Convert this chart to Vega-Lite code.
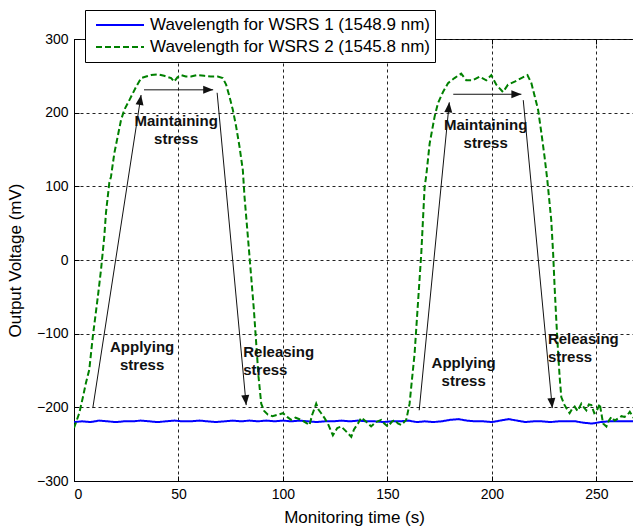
{
  "$schema": "https://vega.github.io/schema/vega-lite/v6.json",
  "width": 560,
  "height": 442,
  "autosize": {"type": "none"},
  "padding": {"left": 74, "top": 39, "right": 0, "bottom": 47},
  "background": "white",
  "config": {
    "font": "Liberation Sans",
    "view": {"stroke": "black", "strokeWidth": 1},
    "axis": {
      "domainColor": "black",
      "tickColor": "black",
      "labelColor": "black",
      "titleColor": "black",
      "labelFont": "Liberation Sans",
      "titleFont": "Liberation Sans",
      "labelFontSize": 14,
      "titleFontSize": 17,
      "titleFontWeight": "normal",
      "tickSize": -5,
      "labelPadding": 11,
      "gridColor": "#222222",
      "gridDash": [3, 3],
      "gridOpacity": 1,
      "gridWidth": 1
    }
  },
  "datasets": {
    "signals": [
      {"series": "Wavelength for WSRS 1 (1548.9 nm)", "t": 0, "v": -220},
      {"series": "Wavelength for WSRS 1 (1548.9 nm)", "t": 4, "v": -219},
      {"series": "Wavelength for WSRS 1 (1548.9 nm)", "t": 8, "v": -220},
      {"series": "Wavelength for WSRS 1 (1548.9 nm)", "t": 12, "v": -218},
      {"series": "Wavelength for WSRS 1 (1548.9 nm)", "t": 16, "v": -219},
      {"series": "Wavelength for WSRS 1 (1548.9 nm)", "t": 20, "v": -220},
      {"series": "Wavelength for WSRS 1 (1548.9 nm)", "t": 24, "v": -219},
      {"series": "Wavelength for WSRS 1 (1548.9 nm)", "t": 28, "v": -219},
      {"series": "Wavelength for WSRS 1 (1548.9 nm)", "t": 32, "v": -218},
      {"series": "Wavelength for WSRS 1 (1548.9 nm)", "t": 36, "v": -219},
      {"series": "Wavelength for WSRS 1 (1548.9 nm)", "t": 40, "v": -220},
      {"series": "Wavelength for WSRS 1 (1548.9 nm)", "t": 44, "v": -219},
      {"series": "Wavelength for WSRS 1 (1548.9 nm)", "t": 48, "v": -218},
      {"series": "Wavelength for WSRS 1 (1548.9 nm)", "t": 52, "v": -219},
      {"series": "Wavelength for WSRS 1 (1548.9 nm)", "t": 56, "v": -219},
      {"series": "Wavelength for WSRS 1 (1548.9 nm)", "t": 60, "v": -218},
      {"series": "Wavelength for WSRS 1 (1548.9 nm)", "t": 64, "v": -219},
      {"series": "Wavelength for WSRS 1 (1548.9 nm)", "t": 68, "v": -220},
      {"series": "Wavelength for WSRS 1 (1548.9 nm)", "t": 72, "v": -219},
      {"series": "Wavelength for WSRS 1 (1548.9 nm)", "t": 76, "v": -218},
      {"series": "Wavelength for WSRS 1 (1548.9 nm)", "t": 80, "v": -219},
      {"series": "Wavelength for WSRS 1 (1548.9 nm)", "t": 84, "v": -218},
      {"series": "Wavelength for WSRS 1 (1548.9 nm)", "t": 88, "v": -219},
      {"series": "Wavelength for WSRS 1 (1548.9 nm)", "t": 92, "v": -218},
      {"series": "Wavelength for WSRS 1 (1548.9 nm)", "t": 96, "v": -219},
      {"series": "Wavelength for WSRS 1 (1548.9 nm)", "t": 100, "v": -218},
      {"series": "Wavelength for WSRS 1 (1548.9 nm)", "t": 104, "v": -219},
      {"series": "Wavelength for WSRS 1 (1548.9 nm)", "t": 108, "v": -218},
      {"series": "Wavelength for WSRS 1 (1548.9 nm)", "t": 112, "v": -219},
      {"series": "Wavelength for WSRS 1 (1548.9 nm)", "t": 116, "v": -220},
      {"series": "Wavelength for WSRS 1 (1548.9 nm)", "t": 120, "v": -219},
      {"series": "Wavelength for WSRS 1 (1548.9 nm)", "t": 124, "v": -219},
      {"series": "Wavelength for WSRS 1 (1548.9 nm)", "t": 128, "v": -218},
      {"series": "Wavelength for WSRS 1 (1548.9 nm)", "t": 132, "v": -219},
      {"series": "Wavelength for WSRS 1 (1548.9 nm)", "t": 136, "v": -218},
      {"series": "Wavelength for WSRS 1 (1548.9 nm)", "t": 140, "v": -219},
      {"series": "Wavelength for WSRS 1 (1548.9 nm)", "t": 144, "v": -219},
      {"series": "Wavelength for WSRS 1 (1548.9 nm)", "t": 148, "v": -220},
      {"series": "Wavelength for WSRS 1 (1548.9 nm)", "t": 152, "v": -219},
      {"series": "Wavelength for WSRS 1 (1548.9 nm)", "t": 156, "v": -219},
      {"series": "Wavelength for WSRS 1 (1548.9 nm)", "t": 160, "v": -218},
      {"series": "Wavelength for WSRS 1 (1548.9 nm)", "t": 164, "v": -220},
      {"series": "Wavelength for WSRS 1 (1548.9 nm)", "t": 168, "v": -219},
      {"series": "Wavelength for WSRS 1 (1548.9 nm)", "t": 172, "v": -220},
      {"series": "Wavelength for WSRS 1 (1548.9 nm)", "t": 176, "v": -219},
      {"series": "Wavelength for WSRS 1 (1548.9 nm)", "t": 180, "v": -217},
      {"series": "Wavelength for WSRS 1 (1548.9 nm)", "t": 184, "v": -216},
      {"series": "Wavelength for WSRS 1 (1548.9 nm)", "t": 188, "v": -218},
      {"series": "Wavelength for WSRS 1 (1548.9 nm)", "t": 192, "v": -219},
      {"series": "Wavelength for WSRS 1 (1548.9 nm)", "t": 196, "v": -219},
      {"series": "Wavelength for WSRS 1 (1548.9 nm)", "t": 200, "v": -220},
      {"series": "Wavelength for WSRS 1 (1548.9 nm)", "t": 204, "v": -218},
      {"series": "Wavelength for WSRS 1 (1548.9 nm)", "t": 208, "v": -216},
      {"series": "Wavelength for WSRS 1 (1548.9 nm)", "t": 212, "v": -218},
      {"series": "Wavelength for WSRS 1 (1548.9 nm)", "t": 216, "v": -220},
      {"series": "Wavelength for WSRS 1 (1548.9 nm)", "t": 220, "v": -219},
      {"series": "Wavelength for WSRS 1 (1548.9 nm)", "t": 224, "v": -219},
      {"series": "Wavelength for WSRS 1 (1548.9 nm)", "t": 228, "v": -220},
      {"series": "Wavelength for WSRS 1 (1548.9 nm)", "t": 232, "v": -219},
      {"series": "Wavelength for WSRS 1 (1548.9 nm)", "t": 236, "v": -219},
      {"series": "Wavelength for WSRS 1 (1548.9 nm)", "t": 240, "v": -219},
      {"series": "Wavelength for WSRS 1 (1548.9 nm)", "t": 244, "v": -221},
      {"series": "Wavelength for WSRS 1 (1548.9 nm)", "t": 248, "v": -222},
      {"series": "Wavelength for WSRS 1 (1548.9 nm)", "t": 252, "v": -220},
      {"series": "Wavelength for WSRS 1 (1548.9 nm)", "t": 256, "v": -219},
      {"series": "Wavelength for WSRS 1 (1548.9 nm)", "t": 260, "v": -219},
      {"series": "Wavelength for WSRS 1 (1548.9 nm)", "t": 264, "v": -219},
      {"series": "Wavelength for WSRS 1 (1548.9 nm)", "t": 268, "v": -219},
      {"series": "Wavelength for WSRS 2 (1545.8 nm)", "t": 0, "v": -228},
      {"series": "Wavelength for WSRS 2 (1545.8 nm)", "t": 2.5, "v": -208},
      {"series": "Wavelength for WSRS 2 (1545.8 nm)", "t": 4.2, "v": -187},
      {"series": "Wavelength for WSRS 2 (1545.8 nm)", "t": 5.7, "v": -167},
      {"series": "Wavelength for WSRS 2 (1545.8 nm)", "t": 7.3, "v": -149},
      {"series": "Wavelength for WSRS 2 (1545.8 nm)", "t": 9, "v": -104},
      {"series": "Wavelength for WSRS 2 (1545.8 nm)", "t": 11.4, "v": -50},
      {"series": "Wavelength for WSRS 2 (1545.8 nm)", "t": 12.9, "v": -14},
      {"series": "Wavelength for WSRS 2 (1545.8 nm)", "t": 13.7, "v": 9},
      {"series": "Wavelength for WSRS 2 (1545.8 nm)", "t": 14.5, "v": 32},
      {"series": "Wavelength for WSRS 2 (1545.8 nm)", "t": 15.3, "v": 64},
      {"series": "Wavelength for WSRS 2 (1545.8 nm)", "t": 16.9, "v": 105},
      {"series": "Wavelength for WSRS 2 (1545.8 nm)", "t": 17.7, "v": 113},
      {"series": "Wavelength for WSRS 2 (1545.8 nm)", "t": 19.3, "v": 145},
      {"series": "Wavelength for WSRS 2 (1545.8 nm)", "t": 22.5, "v": 190},
      {"series": "Wavelength for WSRS 2 (1545.8 nm)", "t": 24.1, "v": 204},
      {"series": "Wavelength for WSRS 2 (1545.8 nm)", "t": 26.5, "v": 217},
      {"series": "Wavelength for WSRS 2 (1545.8 nm)", "t": 29.7, "v": 235},
      {"series": "Wavelength for WSRS 2 (1545.8 nm)", "t": 32.1, "v": 247},
      {"series": "Wavelength for WSRS 2 (1545.8 nm)", "t": 34.5, "v": 249},
      {"series": "Wavelength for WSRS 2 (1545.8 nm)", "t": 36.9, "v": 251},
      {"series": "Wavelength for WSRS 2 (1545.8 nm)", "t": 40, "v": 252},
      {"series": "Wavelength for WSRS 2 (1545.8 nm)", "t": 43.1, "v": 250},
      {"series": "Wavelength for WSRS 2 (1545.8 nm)", "t": 46.5, "v": 247},
      {"series": "Wavelength for WSRS 2 (1545.8 nm)", "t": 47.9, "v": 242},
      {"series": "Wavelength for WSRS 2 (1545.8 nm)", "t": 49.5, "v": 248},
      {"series": "Wavelength for WSRS 2 (1545.8 nm)", "t": 51.2, "v": 251},
      {"series": "Wavelength for WSRS 2 (1545.8 nm)", "t": 53.5, "v": 249},
      {"series": "Wavelength for WSRS 2 (1545.8 nm)", "t": 56, "v": 249},
      {"series": "Wavelength for WSRS 2 (1545.8 nm)", "t": 59, "v": 251},
      {"series": "Wavelength for WSRS 2 (1545.8 nm)", "t": 62.3, "v": 250},
      {"series": "Wavelength for WSRS 2 (1545.8 nm)", "t": 65.5, "v": 249},
      {"series": "Wavelength for WSRS 2 (1545.8 nm)", "t": 68.8, "v": 249},
      {"series": "Wavelength for WSRS 2 (1545.8 nm)", "t": 71.2, "v": 247},
      {"series": "Wavelength for WSRS 2 (1545.8 nm)", "t": 72.8, "v": 238},
      {"series": "Wavelength for WSRS 2 (1545.8 nm)", "t": 74.4, "v": 222},
      {"series": "Wavelength for WSRS 2 (1545.8 nm)", "t": 76, "v": 204},
      {"series": "Wavelength for WSRS 2 (1545.8 nm)", "t": 77.6, "v": 181},
      {"series": "Wavelength for WSRS 2 (1545.8 nm)", "t": 79.2, "v": 154},
      {"series": "Wavelength for WSRS 2 (1545.8 nm)", "t": 80.8, "v": 122},
      {"series": "Wavelength for WSRS 2 (1545.8 nm)", "t": 81.6, "v": 86},
      {"series": "Wavelength for WSRS 2 (1545.8 nm)", "t": 83.2, "v": 32},
      {"series": "Wavelength for WSRS 2 (1545.8 nm)", "t": 84.8, "v": -23},
      {"series": "Wavelength for WSRS 2 (1545.8 nm)", "t": 86.1, "v": -68},
      {"series": "Wavelength for WSRS 2 (1545.8 nm)", "t": 87.2, "v": -113},
      {"series": "Wavelength for WSRS 2 (1545.8 nm)", "t": 88.3, "v": -158},
      {"series": "Wavelength for WSRS 2 (1545.8 nm)", "t": 89.6, "v": -195},
      {"series": "Wavelength for WSRS 2 (1545.8 nm)", "t": 91, "v": -205},
      {"series": "Wavelength for WSRS 2 (1545.8 nm)", "t": 92.8, "v": -210},
      {"series": "Wavelength for WSRS 2 (1545.8 nm)", "t": 95, "v": -212},
      {"series": "Wavelength for WSRS 2 (1545.8 nm)", "t": 97.6, "v": -210},
      {"series": "Wavelength for WSRS 2 (1545.8 nm)", "t": 100, "v": -208},
      {"series": "Wavelength for WSRS 2 (1545.8 nm)", "t": 102, "v": -213},
      {"series": "Wavelength for WSRS 2 (1545.8 nm)", "t": 103.9, "v": -217},
      {"series": "Wavelength for WSRS 2 (1545.8 nm)", "t": 106, "v": -214},
      {"series": "Wavelength for WSRS 2 (1545.8 nm)", "t": 108.7, "v": -217},
      {"series": "Wavelength for WSRS 2 (1545.8 nm)", "t": 110.5, "v": -220},
      {"series": "Wavelength for WSRS 2 (1545.8 nm)", "t": 112.7, "v": -224},
      {"series": "Wavelength for WSRS 2 (1545.8 nm)", "t": 114, "v": -210},
      {"series": "Wavelength for WSRS 2 (1545.8 nm)", "t": 115.9, "v": -195},
      {"series": "Wavelength for WSRS 2 (1545.8 nm)", "t": 117, "v": -203},
      {"series": "Wavelength for WSRS 2 (1545.8 nm)", "t": 118.3, "v": -208},
      {"series": "Wavelength for WSRS 2 (1545.8 nm)", "t": 120, "v": -215},
      {"series": "Wavelength for WSRS 2 (1545.8 nm)", "t": 121.5, "v": -222},
      {"series": "Wavelength for WSRS 2 (1545.8 nm)", "t": 123.9, "v": -238},
      {"series": "Wavelength for WSRS 2 (1545.8 nm)", "t": 126, "v": -228},
      {"series": "Wavelength for WSRS 2 (1545.8 nm)", "t": 127.9, "v": -226},
      {"series": "Wavelength for WSRS 2 (1545.8 nm)", "t": 130, "v": -232},
      {"series": "Wavelength for WSRS 2 (1545.8 nm)", "t": 132.7, "v": -240},
      {"series": "Wavelength for WSRS 2 (1545.8 nm)", "t": 134, "v": -230},
      {"series": "Wavelength for WSRS 2 (1545.8 nm)", "t": 135.9, "v": -222},
      {"series": "Wavelength for WSRS 2 (1545.8 nm)", "t": 137.5, "v": -214},
      {"series": "Wavelength for WSRS 2 (1545.8 nm)", "t": 140, "v": -220},
      {"series": "Wavelength for WSRS 2 (1545.8 nm)", "t": 142.2, "v": -226},
      {"series": "Wavelength for WSRS 2 (1545.8 nm)", "t": 144.5, "v": -220},
      {"series": "Wavelength for WSRS 2 (1545.8 nm)", "t": 147, "v": -217},
      {"series": "Wavelength for WSRS 2 (1545.8 nm)", "t": 148.5, "v": -222},
      {"series": "Wavelength for WSRS 2 (1545.8 nm)", "t": 150.2, "v": -226},
      {"series": "Wavelength for WSRS 2 (1545.8 nm)", "t": 152, "v": -220},
      {"series": "Wavelength for WSRS 2 (1545.8 nm)", "t": 153.4, "v": -217},
      {"series": "Wavelength for WSRS 2 (1545.8 nm)", "t": 155, "v": -222},
      {"series": "Wavelength for WSRS 2 (1545.8 nm)", "t": 156.6, "v": -224},
      {"series": "Wavelength for WSRS 2 (1545.8 nm)", "t": 158, "v": -220},
      {"series": "Wavelength for WSRS 2 (1545.8 nm)", "t": 159, "v": -217},
      {"series": "Wavelength for WSRS 2 (1545.8 nm)", "t": 160.6, "v": -195},
      {"series": "Wavelength for WSRS 2 (1545.8 nm)", "t": 161.4, "v": -172},
      {"series": "Wavelength for WSRS 2 (1545.8 nm)", "t": 163, "v": -127},
      {"series": "Wavelength for WSRS 2 (1545.8 nm)", "t": 164.6, "v": -59},
      {"series": "Wavelength for WSRS 2 (1545.8 nm)", "t": 166.2, "v": 9},
      {"series": "Wavelength for WSRS 2 (1545.8 nm)", "t": 167, "v": 54},
      {"series": "Wavelength for WSRS 2 (1545.8 nm)", "t": 167.8, "v": 99},
      {"series": "Wavelength for WSRS 2 (1545.8 nm)", "t": 168.6, "v": 115},
      {"series": "Wavelength for WSRS 2 (1545.8 nm)", "t": 170.2, "v": 158},
      {"series": "Wavelength for WSRS 2 (1545.8 nm)", "t": 172.6, "v": 195},
      {"series": "Wavelength for WSRS 2 (1545.8 nm)", "t": 174.2, "v": 213},
      {"series": "Wavelength for WSRS 2 (1545.8 nm)", "t": 176.6, "v": 228},
      {"series": "Wavelength for WSRS 2 (1545.8 nm)", "t": 179, "v": 240},
      {"series": "Wavelength for WSRS 2 (1545.8 nm)", "t": 182.1, "v": 247},
      {"series": "Wavelength for WSRS 2 (1545.8 nm)", "t": 185.3, "v": 253},
      {"series": "Wavelength for WSRS 2 (1545.8 nm)", "t": 187.7, "v": 244},
      {"series": "Wavelength for WSRS 2 (1545.8 nm)", "t": 190.9, "v": 244},
      {"series": "Wavelength for WSRS 2 (1545.8 nm)", "t": 194.1, "v": 249},
      {"series": "Wavelength for WSRS 2 (1545.8 nm)", "t": 197.3, "v": 244},
      {"series": "Wavelength for WSRS 2 (1545.8 nm)", "t": 199.7, "v": 251},
      {"series": "Wavelength for WSRS 2 (1545.8 nm)", "t": 202.1, "v": 238},
      {"series": "Wavelength for WSRS 2 (1545.8 nm)", "t": 205.3, "v": 228},
      {"series": "Wavelength for WSRS 2 (1545.8 nm)", "t": 207.7, "v": 238},
      {"series": "Wavelength for WSRS 2 (1545.8 nm)", "t": 210.9, "v": 242},
      {"series": "Wavelength for WSRS 2 (1545.8 nm)", "t": 214.1, "v": 247},
      {"series": "Wavelength for WSRS 2 (1545.8 nm)", "t": 217, "v": 251},
      {"series": "Wavelength for WSRS 2 (1545.8 nm)", "t": 218.9, "v": 240},
      {"series": "Wavelength for WSRS 2 (1545.8 nm)", "t": 220.5, "v": 222},
      {"series": "Wavelength for WSRS 2 (1545.8 nm)", "t": 222.1, "v": 204},
      {"series": "Wavelength for WSRS 2 (1545.8 nm)", "t": 223.7, "v": 172},
      {"series": "Wavelength for WSRS 2 (1545.8 nm)", "t": 225.2, "v": 140},
      {"series": "Wavelength for WSRS 2 (1545.8 nm)", "t": 226.5, "v": 109},
      {"series": "Wavelength for WSRS 2 (1545.8 nm)", "t": 228.4, "v": 54},
      {"series": "Wavelength for WSRS 2 (1545.8 nm)", "t": 229.3, "v": 9},
      {"series": "Wavelength for WSRS 2 (1545.8 nm)", "t": 230, "v": -36},
      {"series": "Wavelength for WSRS 2 (1545.8 nm)", "t": 230.8, "v": -81},
      {"series": "Wavelength for WSRS 2 (1545.8 nm)", "t": 231.7, "v": -127},
      {"series": "Wavelength for WSRS 2 (1545.8 nm)", "t": 232.4, "v": -158},
      {"series": "Wavelength for WSRS 2 (1545.8 nm)", "t": 233.2, "v": -186},
      {"series": "Wavelength for WSRS 2 (1545.8 nm)", "t": 234.8, "v": -197},
      {"series": "Wavelength for WSRS 2 (1545.8 nm)", "t": 236, "v": -203},
      {"series": "Wavelength for WSRS 2 (1545.8 nm)", "t": 237.2, "v": -208},
      {"series": "Wavelength for WSRS 2 (1545.8 nm)", "t": 238.4, "v": -202},
      {"series": "Wavelength for WSRS 2 (1545.8 nm)", "t": 239.6, "v": -199},
      {"series": "Wavelength for WSRS 2 (1545.8 nm)", "t": 241, "v": -205},
      {"series": "Wavelength for WSRS 2 (1545.8 nm)", "t": 242.8, "v": -195},
      {"series": "Wavelength for WSRS 2 (1545.8 nm)", "t": 244, "v": -200},
      {"series": "Wavelength for WSRS 2 (1545.8 nm)", "t": 245.2, "v": -204},
      {"series": "Wavelength for WSRS 2 (1545.8 nm)", "t": 246.4, "v": -196},
      {"series": "Wavelength for WSRS 2 (1545.8 nm)", "t": 247.6, "v": -197},
      {"series": "Wavelength for WSRS 2 (1545.8 nm)", "t": 249, "v": -208},
      {"series": "Wavelength for WSRS 2 (1545.8 nm)", "t": 250, "v": -206},
      {"series": "Wavelength for WSRS 2 (1545.8 nm)", "t": 251.6, "v": -195},
      {"series": "Wavelength for WSRS 2 (1545.8 nm)", "t": 253.2, "v": -222},
      {"series": "Wavelength for WSRS 2 (1545.8 nm)", "t": 254.8, "v": -226},
      {"series": "Wavelength for WSRS 2 (1545.8 nm)", "t": 256, "v": -218},
      {"series": "Wavelength for WSRS 2 (1545.8 nm)", "t": 257.2, "v": -213},
      {"series": "Wavelength for WSRS 2 (1545.8 nm)", "t": 258.8, "v": -218},
      {"series": "Wavelength for WSRS 2 (1545.8 nm)", "t": 260.4, "v": -215},
      {"series": "Wavelength for WSRS 2 (1545.8 nm)", "t": 262, "v": -212},
      {"series": "Wavelength for WSRS 2 (1545.8 nm)", "t": 263.5, "v": -213},
      {"series": "Wavelength for WSRS 2 (1545.8 nm)", "t": 265, "v": -210},
      {"series": "Wavelength for WSRS 2 (1545.8 nm)", "t": 266, "v": -206},
      {"series": "Wavelength for WSRS 2 (1545.8 nm)", "t": 268, "v": -215}
    ],
    "arrows": [
      {"t1": 9.0, "v1": -201, "t2": 32.1, "v2": 224},
      {"t1": 33.5, "v1": 231, "t2": 66.6, "v2": 231},
      {"t1": 68.5, "v1": 227, "t2": 82.4, "v2": -197},
      {"t1": 165.2, "v1": -204, "t2": 179.6, "v2": 214},
      {"t1": 181.5, "v1": 225, "t2": 214.1, "v2": 225},
      {"t1": 215.0, "v1": 217, "t2": 228.9, "v2": -201}
    ],
    "centredNotes": [
      {"t": 48.9, "v": 198, "label": "Maintaining\nstress"},
      {"t": 197.0, "v": 193, "label": "Maintaining\nstress"},
      {"t": 32.6, "v": -108, "label": "Applying\nstress"},
      {"t": 186.5, "v": -130, "label": "Applying\nstress"}
    ],
    "leftNotes": [
      {"t": 81.0, "v": -115, "label": "Releasing\nstress"},
      {"t": 226.8, "v": -98, "label": "Releasing\nstress"}
    ]
  },
  "resolve": {"axis": {"x": "independent"}},
  "layer": [
    {
      "data": {"name": "signals"},
      "mark": {"type": "line", "strokeWidth": 2, "clip": true},
      "encoding": {
        "x": {
          "field": "t", "type": "quantitative",
          "scale": {"domain": [0, 268], "nice": false, "zero": false},
          "axis": {"orient": "bottom", "values": [0, 50, 100, 150, 200, 250], "grid": true, "title": "Monitoring time (s)", "titleY": 36, "titleBaseline": "middle"}
        },
        "y": {
          "field": "v", "type": "quantitative",
          "scale": {"domain": [-300, 300], "nice": false, "zero": false},
          "axis": {"values": [-300, -200, -100, 0, 100, 200, 300], "grid": true, "title": "Output Voltage (mV)", "titleX": -59, "titleY": 221, "titleBaseline": "middle"}
        },
        "color": {
          "field": "series", "type": "nominal",
          "scale": {"domain": ["Wavelength for WSRS 1 (1548.9 nm)", "Wavelength for WSRS 2 (1545.8 nm)"], "range": ["#0000ff", "#008000"]},
          "legend": {"orient": "none", "legendX": 11, "legendY": -29, "title": null, "symbolType": "stroke", "symbolSize": 2304, "symbolStrokeWidth": 2, "labelFontSize": 17, "labelFont": "Liberation Sans", "labelColor": "black", "labelLimit": 0, "strokeColor": "black", "fillColor": "white", "padding": 5, "rowPadding": 2, "clipHeight": 20, "labelOffset": 5, "symbolOffset": 5, "cornerRadius": 0}
        },
        "strokeDash": {
          "field": "series", "type": "nominal",
          "scale": {"domain": ["Wavelength for WSRS 1 (1548.9 nm)", "Wavelength for WSRS 2 (1545.8 nm)"], "range": [[1, 0], [6, 3]]},
          "legend": {"orient": "none", "legendX": 11, "legendY": -29, "title": null, "symbolType": "stroke", "symbolSize": 2304, "symbolStrokeWidth": 2, "labelFontSize": 17, "labelFont": "Liberation Sans", "labelColor": "black", "labelLimit": 0, "strokeColor": "black", "fillColor": "white", "padding": 5, "rowPadding": 2, "clipHeight": 20, "labelOffset": 5, "symbolOffset": 5, "cornerRadius": 0}
        }
      }
    },
    {
      "data": {"name": "arrows"},
      "mark": {"type": "rule", "color": "#111111", "strokeWidth": 1},
      "encoding": {
        "x": {"field": "t1", "type": "quantitative", "axis": {"orient": "top", "values": [0, 50, 100, 150, 200, 250], "labels": false, "title": null, "grid": false, "domain": false}},
        "y": {"field": "v1", "type": "quantitative"},
        "x2": {"field": "t2"},
        "y2": {"field": "v2"}
      }
    },
    {
      "data": {"name": "arrows"},
      "transform": [
        {"calculate": "atan2((datum.t2 - datum.t1) * 560 / 268, (datum.v2 - datum.v1) * 442 / 600) * 180 / PI", "as": "heading"}
      ],
      "mark": {"type": "point", "shape": "M0,0 L-0.4,1 L0.4,1 Z", "size": 400, "filled": true, "color": "#111111", "opacity": 1, "strokeWidth": 0},
      "encoding": {
        "x": {"field": "t2", "type": "quantitative", "axis": null},
        "y": {"field": "v2", "type": "quantitative"},
        "angle": {"field": "heading", "type": "quantitative", "scale": null}
      }
    },
    {
      "data": {"name": "centredNotes"},
      "mark": {"type": "text", "font": "Liberation Sans", "fontSize": 15, "fontWeight": "bold", "align": "center", "baseline": "top", "lineBreak": "\n", "lineHeight": 18, "color": "#111111"},
      "encoding": {
        "x": {"field": "t", "type": "quantitative", "axis": null},
        "y": {"field": "v", "type": "quantitative"},
        "text": {"field": "label"}
      }
    },
    {
      "data": {"name": "leftNotes"},
      "mark": {"type": "text", "font": "Liberation Sans", "fontSize": 15, "fontWeight": "bold", "align": "left", "baseline": "top", "lineBreak": "\n", "lineHeight": 18, "color": "#111111"},
      "encoding": {
        "x": {"field": "t", "type": "quantitative", "axis": null},
        "y": {"field": "v", "type": "quantitative"},
        "text": {"field": "label"}
      }
    }
  ]
}
